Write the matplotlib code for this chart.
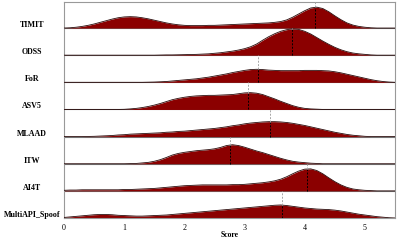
import numpy as np
import matplotlib
matplotlib.use("Agg")
import matplotlib.pyplot as plt

plt.rcParams["font.family"] = ["Liberation Serif", "DejaVu Serif"]

# score grid the densities were read on
score = np.round(np.arange(0, 5.51, 0.1), 1)

datasets = ["TIMIT", "ODSS", "FoR", "ASV5", "MLAAD", "ITW", "AI4T", "MultiAPI_Spoof"]
means = [4.17, 3.79, 3.22, 3.06, 3.42, 2.76, 4.04, 3.62]

timit = [0.0, 0.01, 0.03, 0.06, 0.1, 0.15, 0.21, 0.27, 0.33, 0.38,
         0.41, 0.42, 0.41, 0.38, 0.34, 0.29, 0.24, 0.19, 0.15, 0.12,
         0.10, 0.09, 0.09, 0.09, 0.10, 0.10, 0.11, 0.12, 0.13, 0.14,
         0.15, 0.16, 0.17, 0.18, 0.19, 0.21, 0.24, 0.30, 0.40, 0.52,
         0.64, 0.74, 0.77, 0.72, 0.60, 0.45, 0.31, 0.19, 0.11, 0.06,
         0.03, 0.01, 0.0, 0.0, 0.0, 0.0]
odss = [0.0] * 16 + [0.005, 0.01, 0.01, 0.015,
        0.02, 0.025, 0.03, 0.04, 0.05, 0.07, 0.09, 0.12, 0.15, 0.19,
        0.24, 0.31, 0.41, 0.55, 0.68, 0.79, 0.88, 0.94, 0.97, 0.95,
        0.88, 0.78, 0.65, 0.52, 0.40, 0.29, 0.20, 0.13, 0.08, 0.05,
        0.03, 0.01, 0.0, 0.0, 0.0, 0.0]
fore = [0.0] * 14 + [0.005, 0.01, 0.02, 0.03, 0.05, 0.07,
        0.09, 0.11, 0.13, 0.16, 0.19, 0.23, 0.27, 0.31, 0.36, 0.40,
        0.44, 0.47, 0.48, 0.47, 0.45, 0.44, 0.43, 0.43, 0.43, 0.43,
        0.44, 0.44, 0.44, 0.43, 0.42, 0.39, 0.35, 0.30, 0.25, 0.20,
        0.15, 0.10, 0.06, 0.03, 0.01, 0.0]
asv5 = [0.0] * 10 + [0.005, 0.02, 0.04, 0.07, 0.11, 0.16, 0.22, 0.29, 0.36, 0.41,
        0.45, 0.48, 0.50, 0.51, 0.52, 0.52, 0.53, 0.54, 0.55, 0.58,
        0.61, 0.62, 0.60, 0.55, 0.47, 0.39, 0.30, 0.22, 0.14, 0.08,
        0.04, 0.02, 0.01] + [0.0] * 13
mlaad = [0.0] * 4 + [0.005, 0.01, 0.02, 0.03, 0.04, 0.06,
         0.07, 0.09, 0.10, 0.11, 0.12, 0.13, 0.14, 0.16, 0.17, 0.19,
         0.20, 0.22, 0.24, 0.26, 0.28, 0.30, 0.33, 0.36, 0.40, 0.43,
         0.47, 0.50, 0.52, 0.54, 0.55, 0.55, 0.54, 0.52, 0.49, 0.45,
         0.41, 0.36, 0.31, 0.26, 0.21, 0.16, 0.12, 0.08, 0.05, 0.03,
         0.01, 0.0, 0.0, 0.0, 0.0, 0.0]
itw = [0.0] * 11 + [0.005, 0.01, 0.03, 0.05, 0.09, 0.15, 0.23, 0.32, 0.38,
       0.42, 0.45, 0.48, 0.50, 0.52, 0.55, 0.60, 0.67, 0.70, 0.67,
       0.61, 0.54, 0.47, 0.41, 0.34, 0.27, 0.20, 0.14, 0.09, 0.06,
       0.04, 0.02, 0.01] + [0.0] * 13
ai4t = [0.02, 0.03, 0.03, 0.04, 0.04, 0.04, 0.04, 0.04, 0.04, 0.04,
        0.05, 0.05, 0.06, 0.07, 0.08, 0.09, 0.11, 0.13, 0.15, 0.17,
        0.19, 0.20, 0.21, 0.22, 0.22, 0.22, 0.22, 0.22, 0.23, 0.23,
        0.24, 0.26, 0.28, 0.30, 0.33, 0.37, 0.43, 0.52, 0.63, 0.73,
        0.80, 0.81, 0.75, 0.63, 0.48, 0.34, 0.22, 0.13, 0.07, 0.04,
        0.02, 0.01, 0.0, 0.0, 0.0, 0.0]
multiapi = [0.02, 0.04, 0.06, 0.08, 0.10, 0.12, 0.13, 0.13, 0.12, 0.10,
            0.09, 0.08, 0.07, 0.07, 0.08, 0.09, 0.10, 0.11, 0.13, 0.15,
            0.17, 0.19, 0.21, 0.23, 0.25, 0.27, 0.29, 0.31, 0.33, 0.35,
            0.37, 0.39, 0.41, 0.43, 0.45, 0.47, 0.48, 0.46, 0.43, 0.40,
            0.37, 0.35, 0.33, 0.32, 0.31, 0.29, 0.26, 0.22, 0.18, 0.14,
            0.11, 0.08, 0.05, 0.03, 0.01, 0.0]

densities = [timit, odss, fore, asv5, mlaad, itw, ai4t, multiapi]

fig = plt.figure(figsize=(3.97, 2.40), dpi=100)
ax = fig.add_axes([64 / 397, 22 / 240, 331 / 397, 216 / 240])

n = len(datasets)
for i, (name, dens, m) in enumerate(zip(datasets, densities, means)):
    base = n - 1 - i
    dens = np.array(dens)
    ax.axhline(base, color="0.45", lw=0.8, zorder=1)
    ax.fill_between(score, base, base + dens, color="#8b0000", lw=0, zorder=2)
    ax.plot(score, base + dens, color="#2a0a0a", lw=0.6, zorder=3)
    top = np.interp(m, score, dens)
    ax.plot([m, m], [base, base + top], color="black", ls="--", lw=0.7,
            dashes=(2, 1.5), zorder=4)
    ax.plot([m, m], [base + top, base + 1.0], color="0.65", ls="--", lw=0.7,
            dashes=(2, 1.5), zorder=4, clip_on=False)

ax.set_xlim(0, 5.5)
ax.set_ylim(0, n - 1 + 0.96)
ax.set_xticks(range(6))
ax.set_yticks([n - 1 - i + 0.15 for i in range(n)])
ax.set_yticklabels(datasets, fontweight="bold", ha="center")
ax.tick_params(axis="both", length=0, labelsize=5.8)
ax.tick_params(axis="y", pad=23)
ax.tick_params(axis="x", pad=4)
ax.set_xlabel("Score", fontsize=5.6, fontweight="bold", labelpad=-0.5)
for s in ax.spines.values():
    s.set_color("0.6")
    s.set_linewidth(0.8)

fig.savefig("out.png", dpi=100)
